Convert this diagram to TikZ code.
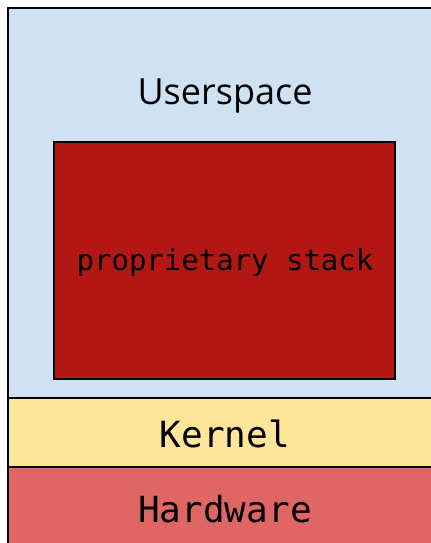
\documentclass[tikz,border=0pt]{standalone}
\usepackage{fontspec}
\setsansfont{Open Sans}
\setmonofont{DejaVu Sans Mono}
\usepackage{xcolor}
\usetikzlibrary{positioning}

\definecolor{userblue}{RGB}{207,226,243}
\definecolor{kernelyellow}{RGB}{255,229,153}
\definecolor{hwred}{RGB}{224,102,102}
\definecolor{stackred}{RGB}{178,23,20}

\tikzset{
  layer/.style={draw=black, line width=1.6pt},
  stackbox/.style={draw=black, line width=1.1pt, fill=stackred},
  monolabel/.style={font=\ttfamily\fontsize{20.5}{24}\selectfont},
}

\begin{document}
\begin{tikzpicture}[x=0.02cm, y=-0.02cm]
  \useasboundingbox (0,0) rectangle (430,543);
  % Layers
  \draw[layer, fill=userblue] (8,8) rectangle (445,398);
  \draw[layer, fill=kernelyellow] (8,398) rectangle (445,467);
  \draw[layer, fill=hwred] (8,467) rectangle (445,560);

  % Proprietary stack
  \draw[stackbox] (54,142) rectangle (395,379);

  % Labels
  \node[font=\sffamily\fontsize{20.5}{24}\selectfont] (user) at (225,96) {Userspace};
  \node[font=\ttfamily\fontsize{16.5}{20}\selectfont] (stack) at (225,263) {proprietary stack};
  \node[monolabel] (kernel) at (225,434) {Kernel};
  \node[monolabel] (hw) at (225,509) {Hardware};
\end{tikzpicture}
\end{document}
